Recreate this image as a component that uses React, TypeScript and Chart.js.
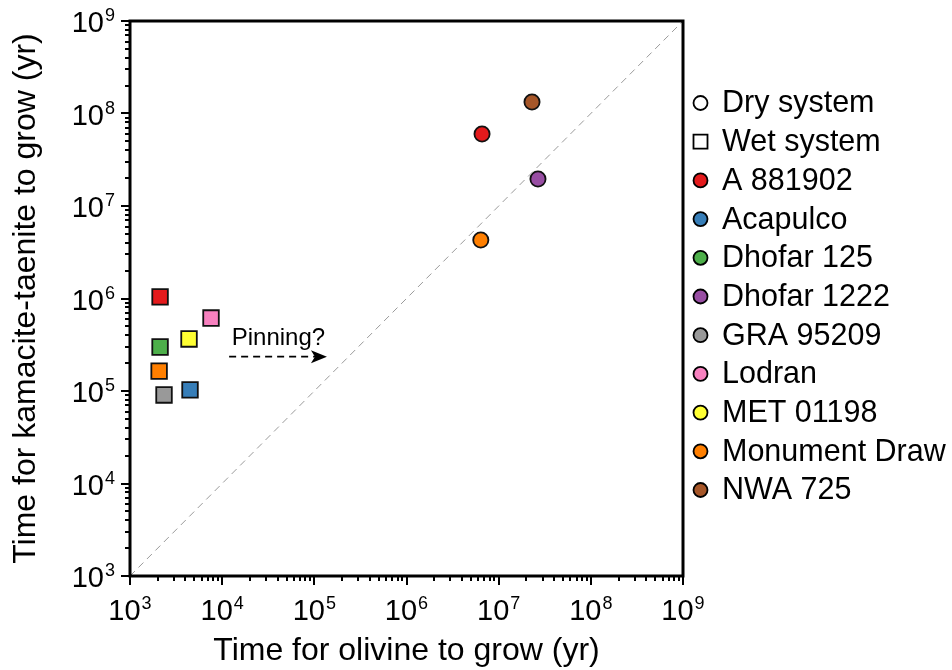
import { useEffect, useRef } from "react";
import { Chart, registerables } from "chart.js";

Chart.register(...registerables);

// ---------- data ----------
const sampleNames = [
  "A 881902",
  "Acapulco",
  "Dhofar 125",
  "Dhofar 1222",
  "GRA 95209",
  "Lodran",
  "MET 01198",
  "Monument Draw",
  "NWA 725",
];
const sampleColors = [
  "#e41a1c",
  "#377eb8",
  "#4daf4a",
  "#984ea3",
  "#999999",
  "#f781bf",
  "#ffff33",
  "#ff7f00",
  "#a65628",
];

// Dry system (circles)
const drySamples = ["A 881902", "Dhofar 1222", "Monument Draw", "NWA 725"];
const dryOlivine = [6.6e6, 2.67e7, 6.4e6, 2.3e7];
const dryKamacite = [6.0e7, 1.96e7, 4.29e6, 1.33e8];

// Wet system (squares)
const wetSamples = [
  "A 881902",
  "Acapulco",
  "Dhofar 125",
  "GRA 95209",
  "Lodran",
  "MET 01198",
  "Monument Draw",
];
const wetOlivine = [2.12e3, 4.48e3, 2.12e3, 2.34e3, 7.57e3, 4.37e3, 2.07e3];
const wetKamacite = [1.04e6, 1.03e5, 2.99e5, 9.06e4, 6.15e5, 3.65e5, 1.64e5];

// 1:1 reference line
const oneToOne = [1e3, 1e9];

// axis
const tickExponents = [3, 4, 5, 6, 7, 8, 9];
const xTitle = "Time for olivine to grow (yr)";
const yTitle = "Time for kamacite-taenite to grow (yr)";

// annotation (data units)
const arrowLabel = "Pinning?";
const arrowStart = [1.19e4, 2.35e5];
const arrowEnd = [1.37e5, 2.35e5];
const arrowLabelAt = [4.08e4, 3.74e5];

const legendSystems = ["Dry system", "Wet system"];

const FONT = '"Liberation Sans", Arial, Helvetica, sans-serif';

const colorOf = (name: string) => sampleColors[sampleNames.indexOf(name)];

const decorPlugin = {
  id: "decor",
  afterDraw(chart: any) {
    const ctx: CanvasRenderingContext2D = chart.ctx;
    const { left, right, top, bottom } = chart.chartArea;
    const xs = chart.scales.x;
    const ys = chart.scales.y;
    ctx.save();

    // frame
    ctx.strokeStyle = "#000";
    ctx.lineWidth = 3;
    ctx.strokeRect(left, top, right - left, bottom - top);

    // ticks
    ctx.lineWidth = 2;
    ctx.beginPath();
    for (let i = 0; i < tickExponents.length; i++) {
      const e = tickExponents[i];
      const kMax = i === tickExponents.length - 1 ? 1 : 9;
      for (let k = 1; k <= kMax; k++) {
        const v = k * Math.pow(10, e);
        const len = k === 1 ? 9 : 5;
        const px = Math.round(xs.getPixelForValue(v));
        ctx.moveTo(px, bottom);
        ctx.lineTo(px, bottom + len);
        const py = Math.round(ys.getPixelForValue(v));
        ctx.moveTo(left, py);
        ctx.lineTo(left - len, py);
      }
    }
    ctx.stroke();

    // tick labels 10^n
    const baseFont = `29px ${FONT}`;
    const supFont = `18px ${FONT}`;
    ctx.fillStyle = "#000";
    ctx.textBaseline = "alphabetic";
    ctx.textAlign = "left";
    for (const e of tickExponents) {
      const v = Math.pow(10, e);
      ctx.font = baseFont;
      const wb = ctx.measureText("10").width;
      ctx.font = supFont;
      const ws = ctx.measureText(String(e)).width;
      const total = wb + ws + 1;
      // x axis
      const px = xs.getPixelForValue(v);
      const x0 = px - total / 2;
      const by = bottom + 44;
      ctx.font = baseFont;
      ctx.fillText("10", x0, by);
      ctx.font = supFont;
      ctx.fillText(String(e), x0 + wb + 1, by - 11);
      // y axis
      const py = ys.getPixelForValue(v);
      const xr = left - 15;
      const yb = py + 11;
      ctx.font = baseFont;
      ctx.fillText("10", xr - total, yb);
      ctx.font = supFont;
      ctx.fillText(String(e), xr - ws, yb - 11);
    }

    // arrow annotation
    const ax0 = xs.getPixelForValue(arrowStart[0]);
    const ay0 = ys.getPixelForValue(arrowStart[1]);
    const ax1 = xs.getPixelForValue(arrowEnd[0]);
    const ay1 = ys.getPixelForValue(arrowEnd[1]);
    ctx.strokeStyle = "#000";
    ctx.lineWidth = 1.7;
    ctx.setLineDash([7, 5]);
    ctx.beginPath();
    ctx.moveTo(ax0, ay0);
    ctx.lineTo(ax1 - 10, ay1);
    ctx.stroke();
    ctx.setLineDash([]);
    ctx.fillStyle = "#000";
    ctx.beginPath();
    ctx.moveTo(ax1, ay1);
    ctx.lineTo(ax1 - 16, ay1 - 6.5);
    ctx.lineTo(ax1 - 12, ay1);
    ctx.lineTo(ax1 - 16, ay1 + 6.5);
    ctx.closePath();
    ctx.fill();
    ctx.font = `24px ${FONT}`;
    ctx.textAlign = "center";
    ctx.textBaseline = "middle";
    ctx.fillText(
      arrowLabel,
      xs.getPixelForValue(arrowLabelAt[0]),
      ys.getPixelForValue(arrowLabelAt[1])
    );

    // legend
    const items: { label: string; shape: string; fill: string }[] = [
      { label: legendSystems[0], shape: "circle", fill: "#fff" },
      { label: legendSystems[1], shape: "square", fill: "#fff" },
      ...sampleNames.map((n, i) => ({ label: n, shape: "circle", fill: sampleColors[i] })),
    ];
    const lx = right + 17.5;
    const tx = right + 39;
    let ly = top + 82;
    const step = 38.7;
    ctx.textAlign = "left";
    ctx.textBaseline = "middle";
    for (const it of items) {
      ctx.lineWidth = 1.8;
      ctx.strokeStyle = "#000";
      ctx.fillStyle = it.fill;
      ctx.beginPath();
      if (it.shape === "circle") {
        ctx.arc(lx, ly, 7, 0, Math.PI * 2);
      } else {
        ctx.rect(lx - 7, ly - 7, 14, 14);
      }
      ctx.fill();
      ctx.stroke();
      ctx.fillStyle = "#000";
      ctx.font = `30.5px ${FONT}`;
      ctx.fillText(it.label, tx, ly + 1);
      ly += step;
    }

    ctx.restore();
  },
};

export default function App() {
  const canvasRef = useRef<HTMLCanvasElement | null>(null);

  useEffect(() => {
    document.body.style.margin = "0";
    const canvas = canvasRef.current;
    if (!canvas) return;

    const chart = new Chart(canvas, {
      type: "scatter",
      data: {
        datasets: [
          {
            label: "1:1",
            data: oneToOne.map((v) => ({ x: v, y: v })),
            showLine: true,
            borderColor: "#9a9a9a",
            borderWidth: 1,
            borderDash: [7, 5],
            pointRadius: 0,
            fill: false,
          },
          {
            label: "Dry system",
            data: dryOlivine.map((x, i) => ({ x, y: dryKamacite[i] })),
            pointStyle: "circle",
            pointRadius: 7.6,
            pointBorderWidth: 1.8,
            pointBorderColor: "#111",
            pointBackgroundColor: drySamples.map(colorOf),
          },
          {
            label: "Wet system",
            data: wetOlivine.map((x, i) => ({ x, y: wetKamacite[i] })),
            pointStyle: "rect",
            pointRadius: 11,
            pointBorderWidth: 1.8,
            pointBorderColor: "#111",
            pointBackgroundColor: wetSamples.map(colorOf),
          },
        ],
      },
      options: {
        responsive: false,
        animation: false,
        events: [],
        layout: { padding: { top: 21, right: 269, left: 0, bottom: 0 } },
        plugins: {
          legend: { display: false },
          tooltip: { enabled: false },
        },
        scales: {
          x: {
            type: "logarithmic",
            min: 1e3,
            max: 1e9,
            grid: { display: false },
            border: { display: false },
            ticks: { display: false },
            afterFit: (s: any) => {
              s.height = 94;
            },
            title: {
              display: true,
              text: xTitle,
              color: "#000",
              font: { family: FONT, size: 32 },
              padding: { top: 0, bottom: 0 },
            },
          },
          y: {
            type: "logarithmic",
            min: 1e3,
            max: 1e9,
            grid: { display: false },
            border: { display: false },
            ticks: { display: false },
            afterFit: (s: any) => {
              s.width = 130;
            },
            title: {
              display: true,
              text: yTitle,
              color: "#000",
              font: { family: FONT, size: 32 },
              padding: { top: 7, bottom: 0 },
            },
          },
        },
      },
      plugins: [decorPlugin],
    } as any);

    return () => chart.destroy();
  }, []);

  return (
    <div style={{ width: 952, height: 670 }}>
      <canvas ref={canvasRef} width={952} height={670} style={{ display: "block" }} />
    </div>
  );
}
